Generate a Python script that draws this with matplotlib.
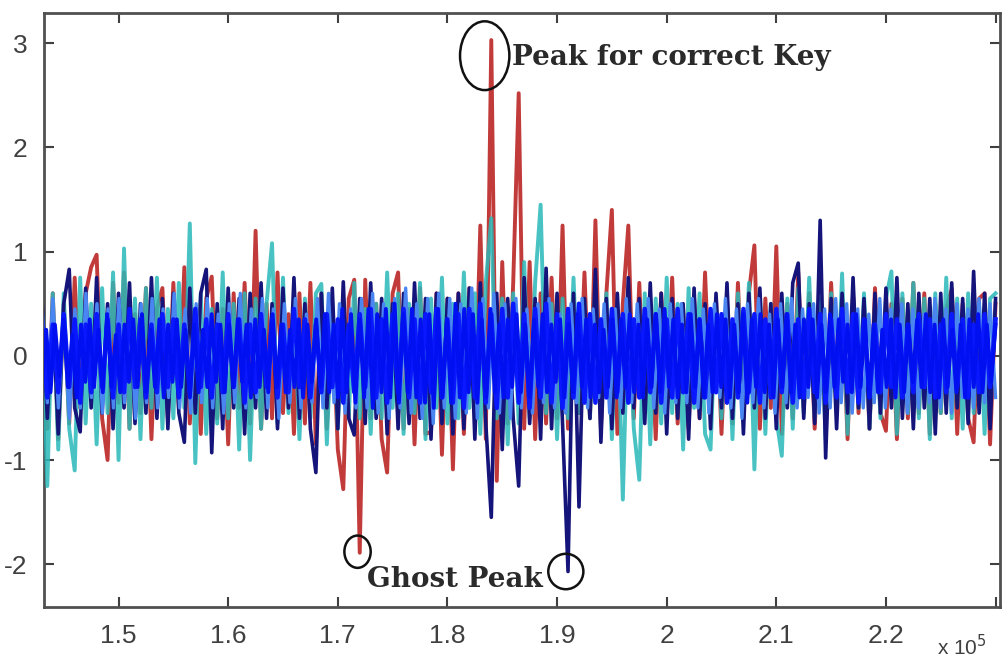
import numpy as np
import matplotlib
matplotlib.use("Agg")
import matplotlib.pyplot as plt
from matplotlib.patches import Ellipse

# ---------------- data (x in units of 1e5) ----------------
x_start, x_end = 1.43, 2.30

red_vals = [
    0.45, -0.7, 0.6, -0.8, 0.5, -0.65, 0.75, -0.5, 0.6, 0.85, 0.97, -0.6, -1.0, 0.7, -0.45, 0.8, -0.7, 0.4, -0.55, 0.65, -0.8, 0.45, 0.65, -0.6, 0.7,
    -0.5, 0.85, -0.65, 0.4, -0.75, 0.55, 0.76, -0.6, 0.45, -0.85, 0.6, -0.5, 0.7, -0.65, 1.2, -0.7, 0.5, -0.6, 0.8, -0.55, 0.4, -0.75, 0.6, -0.65, 0.7,
    -0.85, 0.6, -0.7, 0.45, -0.9, -1.28, 0.55, 0.73, -1.89, 0.73, -0.6, 0.5, -0.8, -1.12, 0.6, 0.8, -0.7, 0.45, -0.85, 0.65, -0.75, -0.73, 0.6, -0.95, 0.55,
    -1.09, 0.6, -0.75, 0.65, -0.6, 1.25, -0.8, 3.03, -1.2, 0.9, -0.65, 0.7, 2.52, -0.7, 0.9, -0.8, 0.6, -0.65, 0.75, -0.6, 1.25, -0.7, 0.6, -0.55, 0.8,
    -0.6, 1.3, -0.7, 0.6, 1.4, -0.75, 0.5, 1.25, -0.6, 0.7, -0.55, 0.45, -0.8, 0.6, -0.5, 0.75, -0.65, 0.45, -0.7, 0.55, -0.6, 0.8, -0.5, 0.55, -0.75,
    0.5, -0.65, 0.7, -0.6, 0.6, 1.06, -0.7, 0.55, -0.5, 1.05, -0.75, 0.5, -0.6, 0.8, -0.5, 0.6, -0.7, 0.45, -0.6, 0.7, -0.5, 0.55, -0.8, 0.6, -0.55,
    0.5, -0.7, 0.65, -0.55, -0.72, 0.5, -0.8, 0.55, -0.6, 0.7, -0.55, 0.6, -0.75, 0.5, -0.55, 0.45, 0.64, -0.75, 0.5, -0.6, -0.83, 0.55, 0.6, -0.85, 0.5,
]

cyan_vals = [
    0.5, -1.25, 0.6, -0.9, 0.6, -0.7, -1.1, 0.75, -0.65, 0.5, -0.85, 0.65, -0.55, 0.8, -1.0, 1.03, -0.7, 0.55, -0.8, 0.65, -0.5, 0.75, -0.7, 0.45, -0.6,
    0.7, -0.5, 1.27, -1.03, 0.6, -0.75, 0.45, -0.65, 0.8, -0.6, 0.5, -0.9, 0.6, -1.0, 0.55, -0.7, 0.5, 1.08, -0.65, 0.75, -0.55, 0.5, -0.8, 0.55, -0.6,
    0.6, 0.69, -0.85, 0.5, -0.7, 0.55, -0.6, 0.7, -0.6, 0.45, -0.75, 0.5, -0.6, 0.8, -0.5, 0.6, -0.75, 0.5, -0.55, 0.7, -0.8, 0.55, -0.5, 0.75, -0.65,
    0.5, -0.6, 0.8, -0.5, 0.6, -0.75, 0.7, 1.32, -0.6, 0.55, -0.85, 0.6, -0.65, 0.9, -0.6, 0.7, 1.45, -0.55, 0.5, -0.8, 0.55, -0.6, 0.75, -0.55, 0.5,
    -0.6, 0.7, -0.5, 0.6, -0.8, 0.5, -1.38, 0.55, -0.7, -1.19, 0.6, -0.85, 0.55, -0.65, 0.75, -0.55, 0.5, -0.9, 0.65, -0.5, 0.6, -0.75, -0.9, 0.5, -0.6,
    0.55, -0.8, 0.6, -0.55, 0.7, -1.09, 0.6, -0.75, 0.5, -0.6, -0.96, 0.55, -0.7, 0.65, -0.55, 0.75, -0.6, 0.55, -0.8, 0.6, -0.55, 0.79, -0.75, 0.55, -0.5,
    0.6, -0.7, 0.5, -0.6, 0.55, 0.81, -0.75, 0.6, -0.55, 0.7, -0.6, 0.55, -0.8, 0.6, -0.55, 0.75, -0.6, 0.55, -0.7, 0.6, -0.55, 0.5, -0.75, 0.55, 0.6,
]

navy_vals = [
    0.6, -0.6, 0.45, -0.75, 0.5, 0.83, -0.5, -0.73, 0.65, -0.5, 0.75, -0.55, 0.5, -0.7, 0.6, -0.5, 0.7, -0.65, 0.5, -0.55, 0.75, -0.6, 0.55, -0.7, 0.6,
    -0.55, -0.83, 0.65, -0.55, 0.6, 0.83, -0.93, 0.5, -0.7, 0.65, -0.5, 0.55, -0.75, 0.6, -0.5, 0.7, -0.6, 0.5, -0.7, 0.65, -0.5, 0.75, -0.6, 0.5, -0.7,
    -1.12, 0.6, -0.5, 0.65, -0.7, 0.71, -0.6, -0.76, 0.55, -0.65, 0.7, -0.6, 0.55, -0.75, 0.5, -0.7, 0.6, -0.65, 0.7, -0.6, 0.55, -0.8, 0.6, -0.65, 0.55,
    -0.75, 0.6, -0.7, 0.65, -0.8, 0.7, -0.65, -1.55, 0.6, -0.9, 0.55, -0.6, -1.25, 0.75, -0.65, 0.55, -0.8, 0.84, -0.7, 0.6, -0.65, -2.07, 0.6, -1.45, 0.55,
    -0.6, 0.83, -0.83, 0.55, -0.7, 0.6, -0.55, 0.75, -0.5, 0.55, -0.65, 0.7, -0.55, 0.6, -0.75, 0.55, -0.6, 0.5, -0.8, 0.65, -0.6, 0.5, -0.7, 0.6, -0.5,
    0.7, -0.6, 0.5, -0.75, 0.6, -0.5, 0.65, -0.6, 0.5, -0.7, 0.6, -0.5, 0.7, 0.89, -0.6, 0.5, -0.65, 1.3, -0.98, 0.55, -0.7, 0.6, -0.55, 0.75, -0.5,
    0.55, -0.7, 0.6, -0.55, 0.65, -0.5, 0.75, -0.6, 0.5, -0.7, 0.6, -0.5, 0.55, -0.75, 0.6, -0.55, 0.7, -0.5, 0.55, -0.65, 0.81, -0.55, 0.6, -0.7, 0.55,
]

lightblue_vals = [
    0.5, -0.45, 0.55, -0.5, 0.4, -0.6, 0.45, -0.5, 0.6, -0.4, 0.5, -0.55, 0.45, -0.5, 0.55, -0.45, 0.4, -0.6, 0.5, -0.45, 0.55, -0.5, 0.45, -0.4, 0.6, -0.5, 0.45, -0.55, 0.5,
    -0.45, 0.55, -0.5, 0.4, -0.55, 0.5, -0.45, 0.6, -0.5, 0.45, -0.4, 0.55, -0.5, 0.45, -0.6, 0.5, -0.45, 0.55, -0.5, 0.4, -0.45, 0.55, -0.5, 0.6, -0.45, 0.5, -0.55, 0.45, -0.5,
    0.55, -0.5, 0.6, -0.55, 0.5, -0.6, 0.55, -0.5, 0.65, -0.55, 0.5, -0.6, 0.55, -0.65, 0.6, -0.5, 0.55, -0.6, 0.5, -0.55, 0.65, -0.6, 0.55, -0.5, 0.6, -0.55, 0.5, -0.6, 0.55,
    -0.5, 0.45, -0.55, 0.5, -0.45, 0.55, -0.5, 0.4, -0.55, 0.5, -0.45, 0.55, -0.5, 0.45, -0.4, 0.5, -0.55, 0.45, -0.5, 0.55, -0.45, 0.5, -0.4, 0.55, -0.5, 0.45, -0.55, 0.5, -0.45,
    0.5, -0.45, 0.55, -0.5, 0.45, -0.55, 0.5, -0.4, 0.55, -0.5, 0.45, -0.6, 0.5, -0.45, 0.55, -0.5, 0.4, -0.55, 0.5, -0.45, 0.55, -0.5, 0.45, -0.4, 0.5, -0.55, 0.45, -0.5, 0.55,
    -0.45, 0.5, -0.55, 0.45, -0.5, 0.4, -0.45, 0.55, -0.5, 0.45, -0.4, 0.5, -0.55, 0.45, -0.5, 0.4, -0.45, 0.55, -0.5, 0.45, -0.55, 0.5, -0.4, 0.45, -0.5, 0.55, -0.45, 0.5, -0.4,
]

blue_vals = [
    0.35, -0.4, 0.3, -0.35, 0.4, -0.3, 0.35, -0.45, 0.3, -0.35, 0.4, -0.3, 0.35, -0.4, 0.3, -0.35, 0.45, -0.3, 0.35, -0.4, 0.3, -0.35, 0.4, -0.3, 0.35,
    -0.4, 0.3, -0.35, 0.45, -0.3, 0.35, -0.4, 0.3, -0.35, 0.4, -0.3, 0.35, -0.45, 0.3, -0.35, 0.4, -0.3, 0.35, -0.4, 0.3, -0.35, 0.45, -0.3, 0.35, -0.4,
    0.3, -0.35, 0.4, -0.3, 0.35, -0.45, 0.3, -0.35, 0.4, -0.3, 0.45, -0.4, 0.35, -0.45, 0.4, -0.35, 0.45, -0.4, 0.35, -0.45, 0.4, -0.35, 0.45, -0.4, 0.35,
    -0.45, 0.4, -0.5, 0.45, -0.4, 0.5, -0.45, 0.4, -0.5, 0.45, -0.4, 0.5, -0.45, 0.4, -0.5, 0.45, -0.4, 0.5, -0.45, 0.4, -0.5, 0.45, -0.4, 0.5, -0.45,
    0.4, -0.45, 0.35, -0.4, 0.45, -0.35, 0.4, -0.45, 0.35, -0.4, 0.45, -0.35, 0.4, -0.45, 0.35, -0.4, 0.45, -0.35, 0.4, -0.45, 0.35, -0.4, 0.45, -0.35, 0.4,
    -0.45, 0.35, -0.4, 0.45, -0.35, 0.4, -0.45, 0.35, -0.4, 0.45, -0.35, 0.4, -0.45, 0.35, -0.4, 0.45, -0.35, 0.4, -0.45, 0.35, -0.4, 0.45, -0.35, 0.4, -0.45,
    0.35, -0.4, 0.3, -0.35, 0.4, -0.3, 0.35, -0.4, 0.3, -0.35, 0.4, -0.3, 0.35, -0.4, 0.3, -0.35, 0.4, -0.3, 0.35, -0.4, 0.3, -0.35, 0.4, -0.3, 0.35,
]

blue2_vals = [
    -0.3, 0.25, -0.35, 0.3, -0.2, 0.35, -0.3, 0.2, -0.4, 0.3, -0.25, 0.35, -0.3, 0.25, -0.35, 0.4, -0.3, 0.2, -0.35, 0.3, -0.25, 0.35,
    -0.3, 0.4, -0.35, 0.25, -0.3, 0.35, -0.4, 0.3, -0.25, 0.35, -0.3, 0.25, -0.4, 0.3, -0.35, 0.25, -0.3, 0.4, -0.25, 0.3, -0.35, 0.3,
    -0.3, 0.35, -0.25, 0.3, -0.4, 0.35, -0.3, 0.25, -0.35, 0.4, -0.3, 0.3, -0.35, 0.25, -0.3, 0.35, -0.4, 0.3, -0.25, 0.35, -0.3, 0.4,
    -0.35, 0.3, -0.4, 0.45, -0.35, 0.4, -0.45, 0.35, -0.4, 0.45, -0.5, 0.4, -0.35, 0.45, -0.4, 0.5, -0.45, 0.4, -0.35, 0.45, -0.4, 0.35,
    -0.45, 0.4, -0.5, 0.45, -0.4, 0.35, -0.45, 0.5, -0.4, 0.45, -0.35, 0.4, -0.45, 0.35, -0.4, 0.45, -0.35, 0.3, -0.4, 0.35, -0.3, 0.4,
    -0.35, 0.3, -0.4, 0.35, -0.3, 0.4, -0.35, 0.3, -0.25, 0.35, -0.4, 0.3, -0.35, 0.4, -0.3, 0.35, -0.4, 0.3, -0.35, 0.25, -0.3, 0.35,
    -0.4, 0.35, -0.3, 0.4, -0.35, 0.3, -0.4, 0.35, -0.3, 0.4, -0.35, 0.45, -0.3, 0.35, -0.4, 0.3, -0.35, 0.4, -0.3, 0.35, -0.4, 0.3,
    -0.35, 0.4, -0.3, 0.35, -0.4, 0.3, -0.35, 0.4, -0.45, 0.35, -0.3, 0.4, -0.35, 0.3, -0.4, 0.35, -0.3, 0.4, -0.35, 0.3, -0.4, 0.35,
    -0.3, 0.35, -0.4, 0.3, -0.35, 0.4, -0.3, 0.35, -0.25, 0.3, -0.35, 0.4, -0.3, 0.35, -0.4, 0.3, -0.35, 0.25, -0.3, 0.35, -0.4, 0.3,
    -0.35, 0.3, -0.25, 0.35, -0.3, 0.4, -0.35, 0.3, -0.4, 0.35, -0.3, 0.25, -0.35, 0.3, -0.4, 0.35, -0.3, 0.4, -0.35, 0.3, -0.25, 0.3,
]

x_ticks = [1.5, 1.6, 1.7, 1.8, 1.9, 2.0, 2.1, 2.2, 2.3]
x_tick_labels = ["1.5", "1.6", "1.7", "1.8", "1.9", "2", "2.1", "2.2", ""]
y_ticks = [-2, -1, 0, 1, 2, 3]
y_tick_labels = ["-2", "-1", "0", "1", "2", "3"]

peak_label = "Peak for correct Key"
ghost_label = "Ghost Peak"
peak_xy = (1.834, 2.88)
ghost1_xy = (1.718, -1.88)
ghost2_xy = (1.908, -2.07)

# ---------------- figure ----------------
fig = plt.figure(figsize=(10.07, 6.59), dpi=100)
ax = fig.add_axes([0.0437, 0.0790, 0.9493, 0.9013])

def xs(vals):
    return np.linspace(x_start, x_end, len(vals))

ax.plot(xs(red_vals), red_vals, color="#b81818", lw=2.8, alpha=0.85, zorder=2)
ax.plot(xs(cyan_vals), cyan_vals, color="#28b8b8", lw=2.8, alpha=0.85, zorder=3)
ax.plot(xs(navy_vals), navy_vals, color="#14147a", lw=2.6, zorder=4)
ax.plot(xs(lightblue_vals), lightblue_vals, color="#4a86f2", lw=2.4, zorder=5)
ax.plot(xs(blue_vals), blue_vals, color="#0a18ff", lw=3.2, zorder=6)
ax.plot(xs(blue2_vals), blue2_vals, color="#0010f0", lw=2.8, zorder=7)

ax.set_xlim(1.432, 2.304)
ax.set_ylim(-2.41, 3.29)

ax.set_xticks(x_ticks)
ax.set_xticklabels(x_tick_labels)
ax.set_yticks(y_ticks)
ax.set_yticklabels(y_tick_labels)

for s in ax.spines.values():
    s.set_color("#505050")
    s.set_linewidth(2)

ax.tick_params(direction="in", top=True, right=True, length=7, width=1.5,
               colors="#404040", labelsize=19, pad=12)
for lab in ax.get_xticklabels() + ax.get_yticklabels():
    lab.set_fontfamily("Liberation Sans")
    lab.set_color("#404040")

# annotations
serif = "DejaVu Serif"
ax.add_patch(Ellipse(peak_xy, 0.045, 0.66, fill=False, ec="#111111", lw=1.8, zorder=10))
ax.text(1.8585, 2.86, peak_label, fontsize=20, family=serif, fontweight="bold",
        color="#2a2a2a", va="center", ha="left", zorder=11)
ax.add_patch(Ellipse(ghost1_xy, 0.024, 0.31, fill=False, ec="#111111", lw=1.8, zorder=10))
ax.add_patch(Ellipse(ghost2_xy, 0.032, 0.34, fill=False, ec="#111111", lw=1.8, zorder=10))
ax.text(1.727, -2.15, ghost_label, fontsize=20, family=serif, fontweight="bold",
        color="#2a2a2a", va="center", ha="left", zorder=11)

fig.text(0.930, 0.006, r"x 10$^5$", fontsize=15, family="Liberation Sans",
         color="#404040", ha="left", va="baseline")

fig.savefig("out.png", dpi=100, facecolor="white")
